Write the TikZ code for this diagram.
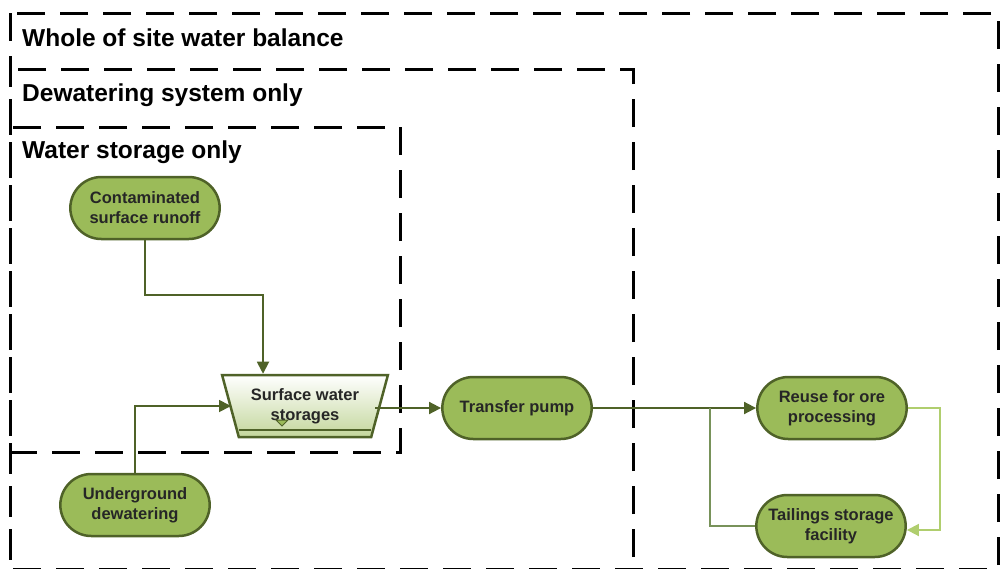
\documentclass[tikz,border=0pt]{standalone}
\usepackage{fontspec}
\setmainfont{Liberation Sans}
\usetikzlibrary{shapes.geometric}

\definecolor{leaf}{RGB}{155,187,89}
\definecolor{bark}{RGB}{79,98,40}
\definecolor{sprout}{RGB}{176,206,110}
\definecolor{moss}{RGB}{120,146,90}

\tikzstyle{zone}=[draw=black, line width=3pt, dash pattern=on 28pt off 15pt]
\tikzstyle{zonetitle}=[anchor=west, inner sep=0pt, font=\bfseries\fontsize{24.5}{28}\selectfont]
\tikzstyle{pill}=[rounded rectangle, draw=bark, line width=2.5pt, fill=leaf, minimum width=156pt, minimum height=62pt, align=center, font=\bfseries\fontsize{16.5}{20}\selectfont, text=black!85]
\tikzstyle{pond}=[trapezium, shape border rotate=180, trapezium angle=71, trapezium stretches=true, draw=bark, line width=2.5pt, top color=white, bottom color=leaf!60, minimum width=166pt, minimum height=62pt, align=center, font=\bfseries\fontsize{16.5}{20}\selectfont, text=black!85]
\tikzstyle{flow}=[draw=bark, line width=1.8pt, -{Triangle[length=12pt,width=12pt]}]
\usetikzlibrary{shapes.misc,arrows.meta}

\begin{document}
\begin{tikzpicture}[x=1pt, y=-1pt]
    \useasboundingbox (0,0) rectangle (1003,568);
    \begin{scope}
    \clip (0,0) rectangle (1003,568);
    % nested boundaries
    \draw[zone] (10,13) rectangle (998,569);
    \draw[zone, dash phase=10pt] (10,69) rectangle (633,620);
    \draw[zone, dash phase=20pt] (10,127) rectangle (400,452);
    \end{scope}
    \node[zonetitle] (t1) at (22,38) {Whole of site water balance};
    \node[zonetitle] (t2) at (22,95) {Dewatering system only};
    \node[zonetitle] (t3) at (22,152) {Water storage only};

    \node[pill] (cr) at (145,208) {Contaminated\\surface runoff};
    \node[pond] (sws) at (305,406) {Surface water\\storages};
    \node[pill] (tp) at (517,408) {Transfer pump};
    \node[pill] (ud) at (135,505) {Underground\\dewatering};
    \node[pill] (ro) at (832,408) {Reuse for ore\\processing};
    \node[pill] (ts) at (831,526) {Tailings storage\\facility};

    % water level mark inside the storage
    \draw[bark, line width=1.4pt] ([shift={(-66,24)}]sws.center) -- ([shift={(66,24)}]sws.center);
    \draw[bark, line width=1pt, fill=leaf] ([shift={(-29,14)}]sws.center) -- ([shift={(-17,14)}]sws.center) -- ([shift={(-23,20)}]sws.center) -- cycle;

    \path[flow]
    (cr.south) -- ++(0,55) -| ([xshift=-42pt]sws.north);
    \path[flow]
    (ud.north) |- ([xshift=-74pt]sws.center);
    \path[flow]
    ([xshift=70pt]sws.center |- tp.west) -- (tp.west);
    \path[flow]
    (tp.east) -- (ro.west);
    \draw[moss, line width=1.8pt]
    (ts.west) -| (710,408);
    \path[flow, draw=sprout]
    (ro.east) -- ++(32,0) |- ([yshift=-4pt]ts.east);
  \end{tikzpicture}
\end{document}
